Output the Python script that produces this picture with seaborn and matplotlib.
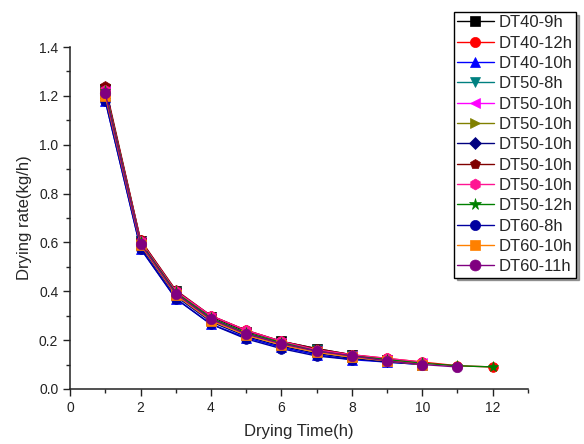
import numpy as np
import pandas as pd
import seaborn as sns
import matplotlib.pyplot as plt

# series values (drying rate, kg/h), time starts at 1 h
labels = ['DT40-9h', 'DT40-12h', 'DT40-10h', 'DT50-8h', 'DT50-10h', 'DT50-10h',
          'DT50-10h', 'DT50-10h', 'DT50-10h', 'DT50-12h', 'DT60-8h', 'DT60-10h', 'DT60-11h']

dt40_9h = [1.23, 0.605, 0.40, 0.295, 0.235, 0.195, 0.165, 0.140, 0.120]
dt40_12h = [1.23, 0.610, 0.40, 0.300, 0.240, 0.195, 0.160, 0.140, 0.125, 0.110, 0.095, 0.090]
dt40_10h = [1.18, 0.575, 0.37, 0.265, 0.210, 0.170, 0.140, 0.120, 0.110, 0.100]
dt50_8h = [1.22, 0.600, 0.395, 0.290, 0.230, 0.190, 0.160, 0.135]
dt50_10h_a = [1.22, 0.600, 0.39, 0.290, 0.230, 0.190, 0.155, 0.135, 0.120, 0.105]
dt50_10h_b = [1.21, 0.595, 0.39, 0.285, 0.225, 0.185, 0.155, 0.130, 0.115, 0.100]
dt50_10h_c = [1.19, 0.585, 0.38, 0.275, 0.215, 0.175, 0.145, 0.125, 0.110, 0.100]
dt50_10h_d = [1.24, 0.610, 0.405, 0.300, 0.240, 0.195, 0.165, 0.140, 0.120, 0.105]
dt50_10h_e = [1.225, 0.605, 0.40, 0.300, 0.240, 0.195, 0.160, 0.140, 0.125, 0.110]
dt50_12h = [1.22, 0.600, 0.395, 0.290, 0.230, 0.190, 0.155, 0.135, 0.120, 0.105, 0.095, 0.090]
dt60_8h = [1.18, 0.575, 0.37, 0.265, 0.205, 0.165, 0.135, 0.120]
dt60_10h = [1.20, 0.590, 0.385, 0.280, 0.220, 0.180, 0.150, 0.130, 0.115, 0.100]
dt60_11h = [1.21, 0.595, 0.39, 0.285, 0.225, 0.185, 0.155, 0.135, 0.115, 0.100, 0.090]

series = [dt40_9h, dt40_12h, dt40_10h, dt50_8h, dt50_10h_a, dt50_10h_b, dt50_10h_c,
          dt50_10h_d, dt50_10h_e, dt50_12h, dt60_8h, dt60_10h, dt60_11h]

colors = ['#000000', '#ff0000', '#0000ff', '#008080', '#ff00ff', '#808000', '#000080',
          '#800000', '#ff1493', '#008000', '#0000a0', '#ff8000', '#800080']
markers = ['s', 'o', '^', 'v', '<', '>', 'D', 'p', 'h', '*', 'o', 's', 'o']
msizes = [6.5, 7, 7, 7, 7, 7, 5.5, 7, 7.5, 8, 7, 6.5, 7.5]

sns.set_style('ticks')
plt.rcParams['font.family'] = ['Liberation Sans', 'DejaVu Sans']

fig = plt.figure(figsize=(5.84, 4.44), dpi=100)
ax = fig.add_axes([0.12, 0.124, 0.784, 0.77])

for lab, vals, c, m, ms in zip(labels, series, colors, markers, msizes):
    df = pd.DataFrame({'t': np.arange(1, len(vals) + 1), 'rate': vals})
    sns.lineplot(data=df, x='t', y='rate', ax=ax, color=c, marker=m, markersize=ms,
                 markeredgecolor=c, markeredgewidth=0.5, linewidth=1.0, label=lab)

ax.set_xlim(0, 13)
ax.set_ylim(0, 1.4)
ax.set_xticks(np.arange(0, 13, 2))
ax.set_xticks(np.arange(1, 14, 2), minor=True)
ax.set_yticks(np.arange(0, 1.41, 0.2))
ax.set_yticks(np.arange(0.1, 1.4, 0.2), minor=True)
ax.set_xticklabels([str(v) for v in range(0, 13, 2)])
ax.set_yticklabels(['%.1f' % v for v in np.arange(0, 1.41, 0.2)])
ax.tick_params(which='major', direction='out', length=5, width=1, labelsize=10, colors='#222222')
ax.tick_params(which='minor', direction='out', length=3, width=1)
sns.despine(ax=ax)
for s in ['left', 'bottom']:
    ax.spines[s].set_linewidth(1.1)
    ax.spines[s].set_color('#222222')

ax.set_xlabel('Drying Time(h)', fontsize=12, labelpad=7)
ax.set_ylabel('Drying rate(kg/h)', fontsize=12, labelpad=5)

leg = ax.legend(loc='upper left', bbox_to_anchor=(0.777, 0.973), bbox_transform=fig.transFigure,
                borderaxespad=0, frameon=True, fancybox=False, shadow=True, edgecolor='black',
                fontsize=12, handlelength=2.2, labelspacing=0.32, handletextpad=0.3,
                borderpad=0.2, markerscale=1.05)
leg.get_frame().set_linewidth(1.0)
leg.get_frame().set_alpha(1)

fig.savefig('out.png', dpi=100)
